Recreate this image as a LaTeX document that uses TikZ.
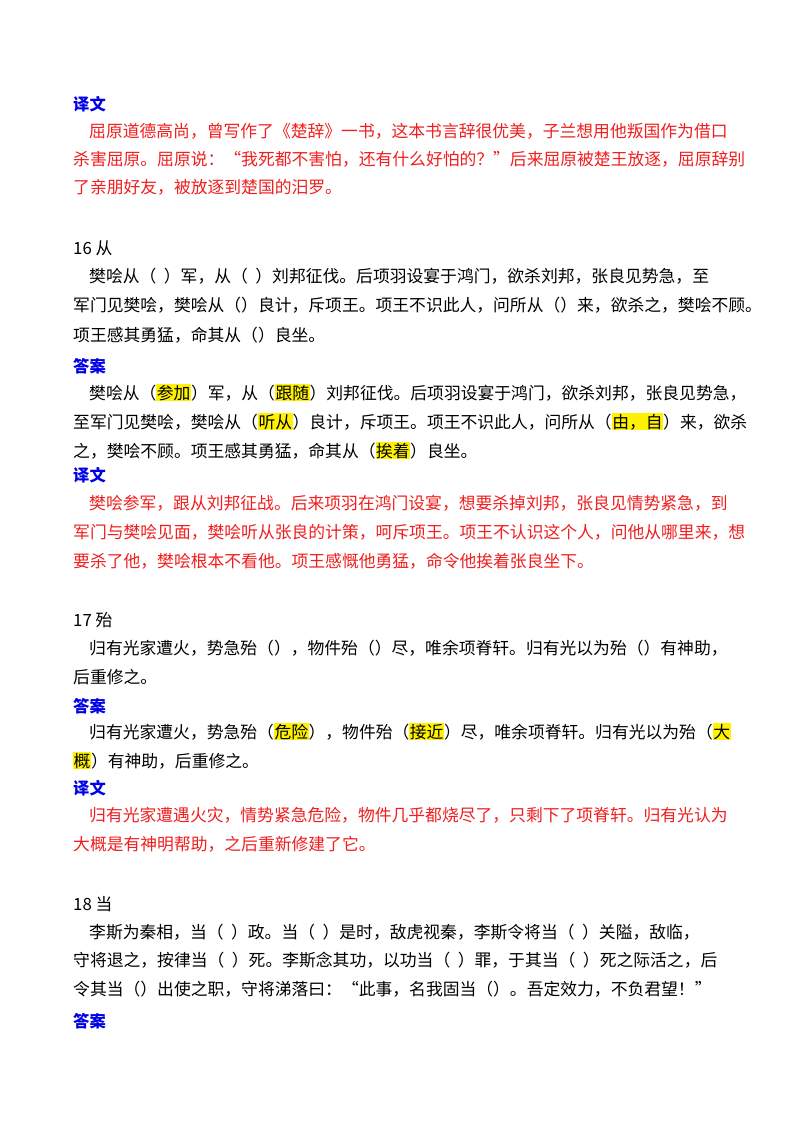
\documentclass[tikz,border=0pt]{standalone}
\usepackage{fontspec}
\setmainfont{Noto Sans CJK SC}
\definecolor{tblue}{RGB}{0,0,230}
\definecolor{tred}{RGB}{240,30,30}
\newcommand{\hlt}[1]{{\setlength{\fboxsep}{0.5pt}\colorbox{yellow}{#1}}}
\begin{document}
\begin{tikzpicture}[x=1pt,y=-1pt,
  ln/.style={anchor=base west,inner sep=0pt,font=\fontsize{16.8}{18}\selectfont},
  hd/.style={ln,text=tblue,font=\fontsize{16.3}{18}\selectfont\bfseries},
  rd/.style={ln,text=tred}]
\useasboundingbox[fill=white] (0,0) rectangle (800,1132);
\node[hd] (h1) at (73,110) {译文};
\node[rd] (a1) at (89,137) {屈原道德高尚，曾写作了《楚辞》一书，这本书言辞很优美，子兰想用他叛国作为借口};
\node[rd] (a2) at (73,165) {杀害屈原。屈原说：“我死都不害怕，还有什么好怕的？”后来屈原被楚王放逐，屈原辞别};
\node[rd] (a3) at (73,193) {了亲朋好友，被放逐到楚国的汨罗。};
\node[ln] (t16) at (73,254) {16 从};
\node[ln] (b1) at (89,282) {樊哙从（\ \ ）军，从（\ \ ）刘邦征伐。后项羽设宴于鸿门，欲杀刘邦，张良见势急，至};
\node[ln] (b2) at (73,311) {军门见樊哙，樊哙从（）良计，斥项王。项王不识此人，问所从（）来，欲杀之，樊哙不顾。};
\node[ln] (b3) at (73,341) {项王感其勇猛，命其从（）良坐。};
\node[hd] (h2) at (73,372) {答案};
\node[ln] (c1) at (89,399) {樊哙从（\hlt{参加}）军，从（\hlt{跟随}）刘邦征伐。后项羽设宴于鸿门，欲杀刘邦，张良见势急，};
\node[ln] (c2) at (73,428) {至军门见樊哙，樊哙从（\hlt{听从}）良计，斥项王。项王不识此人，问所从（\hlt{由，自}）来，欲杀};
\node[ln] (c3) at (73,457) {之，樊哙不顾。项王感其勇猛，命其从（\hlt{挨着}）良坐。};
\node[hd] (h3) at (73,481) {译文};
\node[rd] (d1) at (89,509) {樊哙参军，跟从刘邦征战。后来项羽在鸿门设宴，想要杀掉刘邦，张良见情势紧急，到};
\node[rd] (d2) at (73,538) {军门与樊哙见面，樊哙听从张良的计策，呵斥项王。项王不认识这个人，问他从哪里来，想};
\node[rd] (d3) at (73,567) {要杀了他，樊哙根本不看他。项王感慨他勇猛，命令他挨着张良坐下。};
\node[ln] (t17) at (73,626) {17 殆};
\node[ln] (e1) at (89,654) {归有光家遭火，势急殆（），物件殆（）尽，唯余项脊轩。归有光以为殆（）有神助，};
\node[ln] (e2) at (73,683) {后重修之。};
\node[hd] (h4) at (73,712) {答案};
\node[ln] (f1) at (89,738) {归有光家遭火，势急殆（\hlt{危险}），物件殆（\hlt{接近}）尽，唯余项脊轩。归有光以为殆（\hlt{大}};
\node[ln] (f2) at (73,767) {\hlt{概}）有神助，后重修之。};
\node[hd] (h5) at (73,794) {译文};
\node[rd] (g1) at (89,821) {归有光家遭遇火灾，情势紧急危险，物件几乎都烧尽了，只剩下了项脊轩。归有光认为};
\node[rd] (g2) at (73,850) {大概是有神明帮助，之后重新修建了它。};
\node[ln] (t18) at (73,910) {18 当};
\node[ln] (k1) at (89,938) {李斯为秦相，当（\ \ ）政。当（\ \ ）是时，敌虎视秦，李斯令将当（\ \ ）关隘，敌临，};
\node[ln] (k2) at (73,966) {守将退之，按律当（\ \ ）死。李斯念其功，以功当（\ \ ）罪，于其当（\ \ ）死之际活之，后};
\node[ln] (k3) at (73,995) {令其当（）出使之职，守将涕落曰：“此事，名我固当（）。吾定效力，不负君望！”};
\node[hd] (h6) at (73,1027) {答案};
\end{tikzpicture}
\end{document}
